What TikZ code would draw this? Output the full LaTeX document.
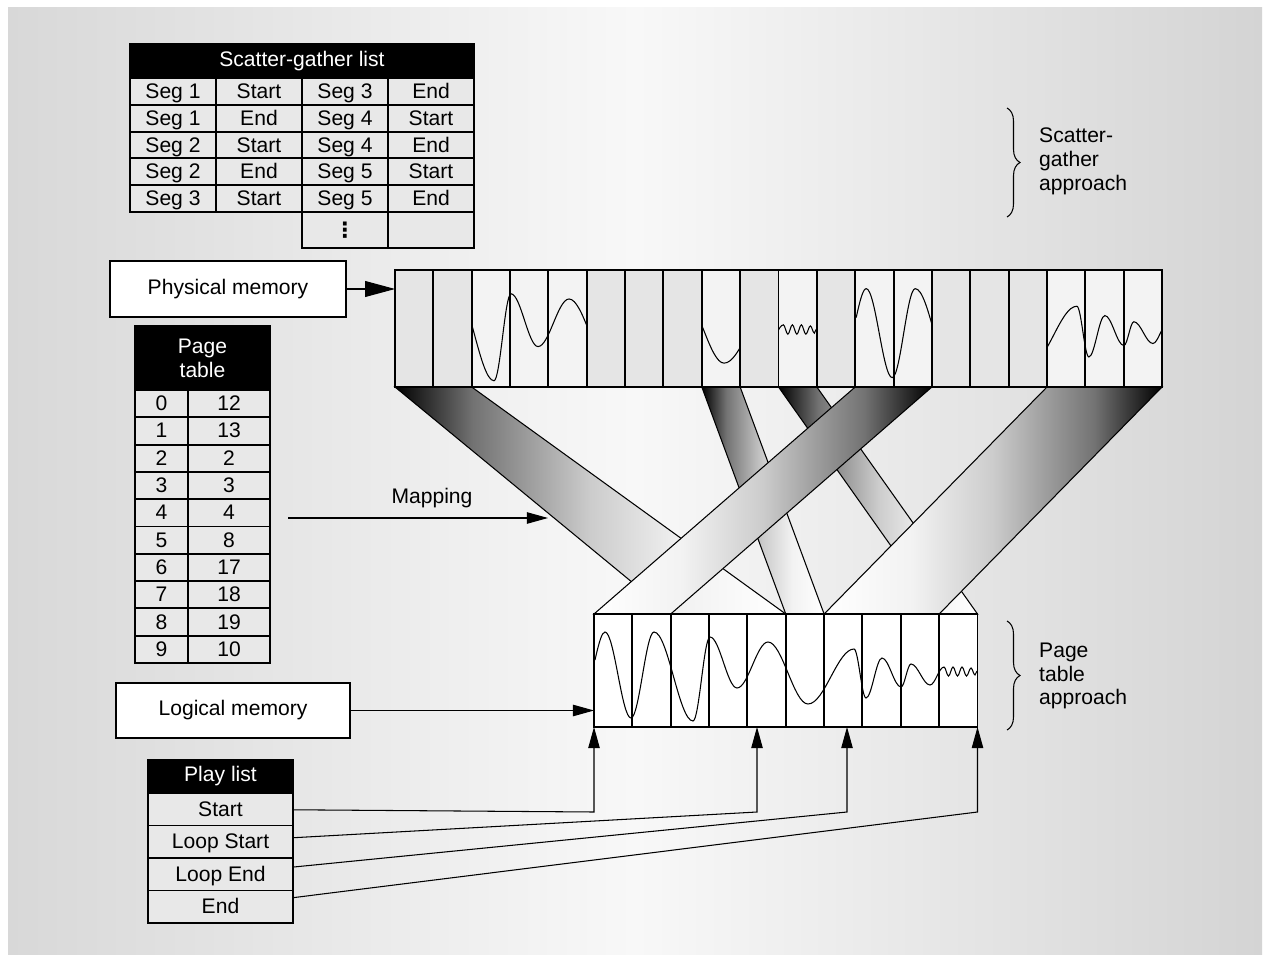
\documentclass[tikz,border=0pt]{standalone}
\usepackage{fontspec}
\setmainfont{Liberation Sans}
\newfontfamily\symfont{DejaVu Sans}
\usetikzlibrary{arrows.meta, calc, decorations.pathreplacing, positioning}

\definecolor{bgside}{HTML}{D8D8D8}
\definecolor{bgmid}{HTML}{F8F8F8}
\definecolor{bgright}{HTML}{D4D4D4}

\pgfdeclarehorizontalshading{fadeR}{100bp}{color(0bp)=(black); color(25bp)=(black); color(35bp)=(black!55); color(50bp)=(black!20); color(62bp)=(black!5); color(75bp)=(white); color(100bp)=(white)}
\pgfdeclarehorizontalshading{fadeL}{100bp}{color(0bp)=(white); color(25bp)=(white); color(38bp)=(black!5); color(50bp)=(black!20); color(65bp)=(black!55); color(75bp)=(black); color(100bp)=(black)}

\newcommand\pagemap{0/12,1/13,2/2,3/3,4/4,5/8,6/17,7/18,8/19,9/10}
\newcommand\wavepath{(1,46) .. controls (5,28) and (8,18) .. (11,18)
  \foreach \x/\y [remember=\x as \lx (initially 11), remember=\y as \ly (initially 18)] in
    {37/104, 60/18, 99/107, 116/23, 143/74, 174/28, 214/90, 260/35, 272/84, 288/44,
     307/73, 317/50, 336/71, 350/53, 354.5/62, 359/53, 363.5/62, 368/53, 372.5/62, 377/54, 381/61}
  { .. controls ({\lx+0.36*(\x-\lx)},\ly) and ({\x-0.36*(\x-\lx)},\y) .. (\x,\y) } -- (383,57)}

\begin{document}
\begin{tikzpicture}[x=0.02cm, y=-0.02cm, font=\fontsize{12}{13.6}\selectfont,
    hdr/.style={draw, line width=1.1pt, fill=black, text=white, inner sep=0pt},
    tcell/.style={draw, line width=1.1pt, fill=black!9, inner sep=0pt, text height=8.6pt, text depth=0.6pt},
    lblbox/.style={draw, line width=0.6pt, fill=white, inner sep=0pt},
    memblk/.style={draw, line width=1.1pt, inner sep=0pt, outer sep=0pt},
    memline/.style={line width=1.1pt},
    sigline/.style={line width=0.6pt},
    band/.style={draw=black, line width=0.6pt},
    conn/.style={line width=0.6pt, -{Triangle[length=12pt, width=6.5pt]}},
    brc/.style={decorate, decoration={brace, amplitude=7.4pt}, line width=0.6pt}]
    \useasboundingbox (0,0) rectangle (1270,962);
    \fill[white] (0,0) rectangle (1270,962);
    \shade[left color=bgside, right color=bgright, middle color=bgmid] (8,8) rectangle (1262,954);

    % mapping bands
    \shadedraw[band, shading=fadeR] (395,387) -- (471.7,387) -- (785.75,614) -- (670.7,614) -- cycle;
    \shadedraw[band, shading=fadeR] (701.8,387) -- (740.15,387) -- (824.1,614) -- (785.75,614) -- cycle;
    \shadedraw[band, shading=fadeR] (778.5,387) -- (816.85,387) -- (977.5,614) -- (939.15,614) -- cycle;
    \shadedraw[band, shading=fadeL] (855.2,387) -- (931.9,387) -- (670.7,614) -- (594,614) -- cycle;
    \shadedraw[band, shading=fadeL] (1046.95,387) -- (1162,387) -- (939.15,614) -- (824.1,614) -- cycle;

    % physical memory
    \fill[black!10] (395,270) rectangle (1162,387);
    \foreach \l/\p in \pagemap {
        \fill[white, fill opacity=.55] ({395+38.35*\p},270) rectangle ++(38.35,117);
        \begin{scope}
            \clip ({395+38.35*\p},270) rectangle ++(38.35,117);
            \draw[sigline, shift={({395+38.35*(\p-\l)},270)}, yscale=1.035] \wavepath;
        \end{scope}
    }
    \foreach \c in {1,...,19} \draw[memline] ({395+38.35*\c},270) -- ++(0,117);
    \node[memblk, minimum width=15.34cm, minimum height=2.34cm] (phys) at (778.5,328.5) {};

    % logical memory
    \fill[white] (594,614) rectangle (977.5,727);
    \begin{scope}
        \clip (594,614) rectangle (977.5,727);
        \draw[sigline, shift={(594,614)}] \wavepath;
    \end{scope}
    \foreach \c in {1,...,9} \draw[memline] ({594+38.35*\c},614) -- ++(0,113);
    \node[memblk, minimum width=7.67cm, minimum height=2.26cm] (logic) at (785.75,670.5) {};

    % scatter-gather list
    \node[hdr, minimum width=6.88cm, minimum height=0.68cm] (sghead) at (302,61) {Scatter-gather list};
    \foreach \r/\sa/\ea/\sb/\eb in {0/1/Start/3/End, 1/1/End/4/Start, 2/2/Start/4/End, 3/2/End/5/Start, 4/3/Start/5/End} {
        \node[tcell, minimum width=1.72cm, minimum height=0.536cm] (sg\r a) at (173,91.4+26.8*\r) {Seg \sa};
        \node[tcell, minimum width=1.72cm, minimum height=0.536cm] (sg\r b) at (259,91.4+26.8*\r) {\ea};
        \node[tcell, minimum width=1.72cm, minimum height=0.536cm] (sg\r c) at (345,91.4+26.8*\r) {Seg \sb};
        \node[tcell, minimum width=1.72cm, minimum height=0.536cm] (sg\r d) at (431,91.4+26.8*\r) {\eb};
    }
    \node[tcell, minimum width=1.72cm, minimum height=0.72cm] (sgdots) at (345,230) {\symfont\bfseries ⋮};
    \node[tcell, minimum width=1.72cm, minimum height=0.72cm] (sgblank) at (431,230) {};

    % page table
    \node[hdr, minimum width=2.7cm, minimum height=1.28cm, align=center] (pthead) at (202.5,358) {Page\\table};
    \foreach \l/\p [count=\r from 0] in \pagemap {
        \node[tcell, minimum width=1.06cm, minimum height=0.546cm] (ptl\l) at (161.5,403.65+27.3*\r) {\l};
        \node[tcell, minimum width=1.64cm, minimum height=0.546cm] (ptp\l) at (229,403.65+27.3*\r) {\p};
    }

    % play list
    \node[hdr, minimum width=2.9cm, minimum height=0.66cm] (plhead) at (220.5,776.5) {Play list};
    \foreach \t [count=\r from 0] in {Start, Loop Start, Loop End, End}
        \node[tcell, minimum width=2.9cm, minimum height=0.65cm] (pl\r) at (220.5,809.25+32.5*\r) {\t};

    % labels and arrows
    \node[lblbox, minimum width=4.72cm, minimum height=1.12cm] (pmlbl) at (228,289) {Physical memory};
    \node[lblbox, minimum width=4.68cm, minimum height=1.1cm] (lmlbl) at (233,710.5) {Logical memory};
    \draw[conn, -{Triangle[length=17pt, width=9pt]}] (pmlbl) -- (pmlbl -| phys.west);
    \draw[conn] (lmlbl) -- (lmlbl -| logic.west);

    \node (maptxt) at (432,498) {Mapping};
    \coordinate (mapfrom) at (288,518);
    \coordinate (mapto) at (548,518);
    \draw[conn] (mapfrom) -- (mapto);

    \foreach \r/\x in {0/594, 1/757, 2/847, 3/977.5} {
        \coordinate (bend\r) at (\x,812);
        \coordinate (hit\r) at (\x,727);
        \draw[conn] (pl\r) -- (bend\r) -- (hit\r);
    }

    % braces
    \draw[brc] (1007,108) -- (1007,217);
    \node[anchor=west, align=left] (sgnote) at (1033,161) {Scatter-\\gather\\approach};
    \draw[brc] (1007,621) -- (1007,730);
    \node[anchor=west, align=left] (ptnote) at (1033,676) {Page\\table\\approach};
\end{tikzpicture}
\end{document}
